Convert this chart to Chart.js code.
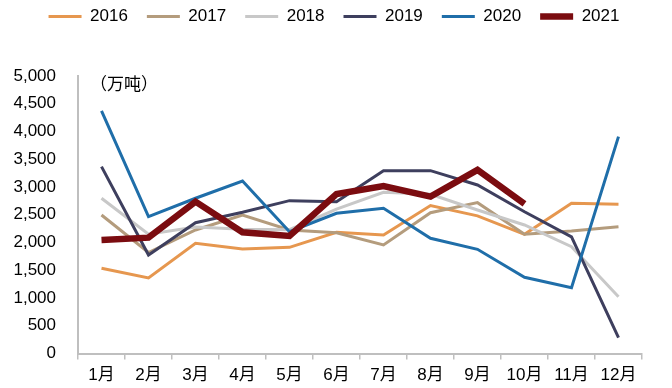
<!DOCTYPE html>
<html>
<head>
<meta charset="utf-8">
<script src="https://cdn.jsdelivr.net/npm/chart.js@4/dist/chart.umd.min.js"></script>
<style>
  html, body { margin: 0; padding: 0; background: #fff; }
  #wrap { width: 672px; height: 388px; position: relative; }
</style>
</head>
<body>
<div id="wrap"><canvas id="trendChart"></canvas></div>
<script>
// 月度数据（万吨）
const months = ['1月', '2月', '3月', '4月', '5月', '6月', '7月', '8月', '9月', '10月', '11月', '12月'];
const years = ['2016', '2017', '2018', '2019', '2020', '2021'];
const y2016 = [1535, 1360, 1985, 1883, 1913, 2185, 2135, 2665, 2480, 2148, 2706, 2690];
const y2017 = [2496, 1820, 2225, 2496, 2225, 2177, 1955, 2537, 2718, 2148, 2207, 2285];
const y2018 = [2797, 2150, 2280, 2240, 2230, 2600, 2905, 2870, 2586, 2316, 1925, 1024];
const y2019 = [3367, 1775, 2357, 2544, 2754, 2736, 3294, 3294, 3036, 2555, 2100, 285];
const y2020 = [4370, 2466, 2797, 3108, 2195, 2526, 2616, 2076, 1877, 1373, 1186, 3907];
const y2021 = [2045, 2087, 2736, 2184, 2117, 2874, 3018, 2826, 3307, 2694, null, null];
const yTicks = [0, 500, 1000, 1500, 2000, 2500, 3000, 3500, 4000, 4500, 5000];
const unitLabel = '（万吨）';

const FONT = "Arial, 'Liberation Sans', 'Noto Sans CJK SC', sans-serif";
const AXIS_GREY = '#bfbfbf';

function series(label, data, color, width, order) {
    return {
        label: label,
        data: data,
        borderColor: color,
        backgroundColor: color,
        borderWidth: width,
        pointRadius: 0,
        pointHoverRadius: 0,
        tension: 0,
        fill: false,
        order: order
    };
}

// legend gets a fixed height so the plot starts where the original does,
// and is nudged right a little like in the original
const legendBox = {
    id: 'legendBox',
    beforeInit(chart) {
        if (!chart.legend) return;
        const fit = chart.legend.fit;
        chart.legend.fit = function() {
            fit.bind(chart.legend)();
            this.height = 87;
        };
    },
    afterLayout(chart) {
        if (!chart.legend) return;
        chart.legend.left += 13;
        chart.legend.right += 13;
    }
};

const unitText = {
    id: 'unitText',
    afterDraw(chart) {
        const ctx = chart.ctx;
        ctx.save();
        ctx.font = '17px ' + FONT;
        ctx.fillStyle = '#000';
        ctx.textAlign = 'left';
        ctx.textBaseline = 'middle';
        ctx.fillText(unitLabel, 90, 85);
        ctx.restore();
    }
};

const ctx = document.getElementById('trendChart').getContext('2d');
const chart = new Chart(ctx, {
    type: 'line',
    data: {
        labels: months,
        datasets: [
            series(years[0], y2016, '#e6974f', 3, 5),
            series(years[1], y2017, '#b49c7d', 3, 4),
            series(years[2], y2018, '#c8c8c8', 3, 3),
            series(years[3], y2019, '#3e3f5e', 3, 2),
            series(years[4], y2020, '#1f6ea9', 3, 1),
            series(years[5], y2021, '#7b0c10', 6.5, 0)
        ]
    },
    options: {
        responsive: true,
        maintainAspectRatio: false,
        animation: false,
        layout: { padding: { top: -11, right: 30, bottom: 0, left: 0 } },
        plugins: {
            legend: {
                position: 'top',
                labels: {
                    usePointStyle: true,
                    pointStyle: 'line',
                    pointStyleWidth: 33,
                    padding: 19,
                    color: '#000',
                    font: { family: FONT, size: 17 },
                    sort: (a, b) => a.datasetIndex - b.datasetIndex
                }
            },
            tooltip: { enabled: false }
        },
        scales: {
            x: {
                offset: true,
                grid: {
                    offset: true,
                    drawOnChartArea: false,
                    drawTicks: true,
                    tickLength: 6,
                    color: AXIS_GREY,
                    lineWidth: 1.5
                },
                border: { color: AXIS_GREY, width: 2 },
                ticks: {
                    color: '#000',
                    padding: 6,
                    maxRotation: 0,
                    autoSkip: false,
                    font: { family: FONT, size: 17 }
                },
                afterFit(scale) { scale.height = 34.5; }
            },
            y: {
                min: yTicks[0],
                max: yTicks[yTicks.length - 1],
                afterBuildTicks(scale) {
                    scale.ticks = yTicks.map(v => ({ value: v }));
                },
                grid: { drawOnChartArea: false, drawTicks: false },
                border: { color: AXIS_GREY, width: 2 },
                ticks: {
                    color: '#000',
                    padding: 22,
                    font: { family: FONT, size: 17 },
                    callback: v => v.toLocaleString('en-US')
                },
                afterFit(scale) { scale.width = 78; }
            }
        }
    },
    plugins: [legendBox, unitText]
});
</script>
</body>
</html>
